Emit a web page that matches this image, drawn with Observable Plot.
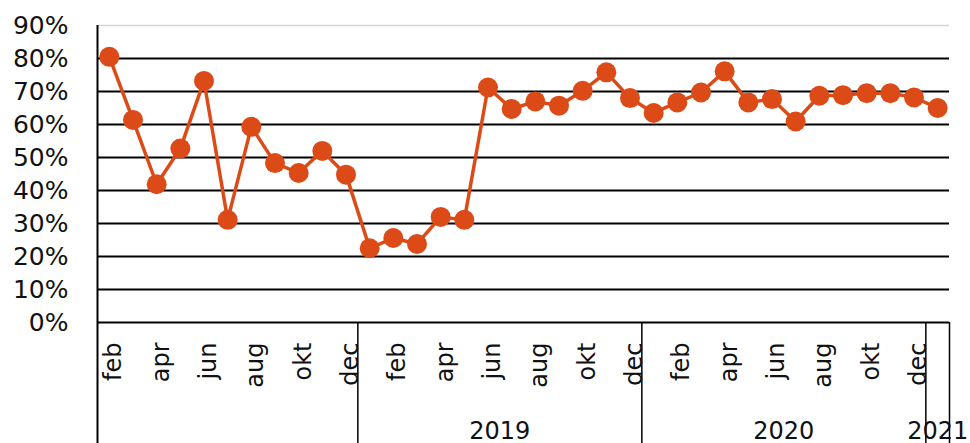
<!DOCTYPE html>
<html><head><meta charset="utf-8">
<script src="https://cdn.jsdelivr.net/npm/d3@7"></script>
<script src="https://cdn.jsdelivr.net/npm/@observablehq/plot@0.6"></script>
<style>html,body{margin:0;padding:0;background:#fff} svg{display:block}</style>
</head><body><div id="chart"></div>
<script>
// Period (year, month) of each observation
const periodYears = [2018,2018,2018,2018,2018,2018,2018,2018,2018,2018,2018,
  2019,2019,2019,2019,2019,2019,2019,2019,2019,2019,2019,2019,
  2020,2020,2020,2020,2020,2020,2020,2020,2020,2020,2020,2020,
  2021];
const periodMonths = ["feb","mar","apr","maj","jun","jul","aug","sep","okt","nov","dec",
  "jan","feb","mar","apr","maj","jun","jul","aug","sep","okt","nov","dec",
  "jan","feb","mar","apr","maj","jun","jul","aug","sep","okt","nov","dec",
  "jan"];
const shares = [0.805,0.614,0.419,0.527,0.732,0.311,0.593,0.483,0.453,0.520,0.448,
  0.225,0.256,0.238,0.320,0.311,0.712,0.647,0.670,0.657,0.702,0.758,0.680,
  0.635,0.667,0.697,0.761,0.667,0.677,0.609,0.687,0.689,0.695,0.695,0.682,
  0.650];
const labeledMonths = ["feb","apr","jun","aug","okt","dec"];
const yearLabels = ["2019","2020","2021"];
const yTicks = [0,0.1,0.2,0.3,0.4,0.5,0.6,0.7,0.8,0.9];

const ORANGE = "#dc4b17";
const data = shares.map((v, i) => ({i, v, m: periodMonths[i], yr: periodYears[i]}));
const n = data.length;

// year groups
const groups = d3.groups(data, d => d.yr).map(([yr, rows]) => ({
  yr: String(yr),
  start: rows[0].i - 0.5,
  end: rows[rows.length - 1].i + 0.5,
  mid: (rows[0].i + rows[rows.length - 1].i) / 2
}));
const boundaries = groups.map(g => g.end);
const labeledGroups = groups.filter(g => yearLabels.includes(g.yr));

const FONT = "DejaVu Sans";
const chart = Plot.plot({
  width: 970,
  height: 443,
  marginLeft: 97,
  marginRight: 21,
  marginTop: 25,
  marginBottom: 121,
  style: {fontFamily: FONT, fontSize: "24px", color: "#111", background: "#fff"},
  x: {domain: [-0.5, n - 0.5], axis: null},
  y: {domain: [0, 0.9], axis: null},
  marks: [
    Plot.ruleY(yTicks.filter(t => t < 0.85), {stroke: "#000", strokeWidth: 2}),
    Plot.ruleY(yTicks.filter(t => t > 0.85), {stroke: "#d4d4d4", strokeWidth: 1.5}),
    Plot.ruleX(boundaries, {y1: 0, y2: 0, insetBottom: -121, stroke: "#000", strokeWidth: 1.5}),
    Plot.ruleX([-0.5], {insetBottom: -121, stroke: "#000", strokeWidth: 2}),
    Plot.axisY(yTicks, {label: null, tickSize: 0, tickPadding: 29, tickFormat: d3.format(".0%"), fontSize: 25, fill: "#111"}),
    Plot.line(data, {x: "i", y: "v", stroke: ORANGE, strokeWidth: 3.5}),
    Plot.dot(data, {x: "i", y: "v", r: 10, fill: ORANGE}),
    Plot.text(data.filter(d => labeledMonths.includes(d.m)), {
      x: "i", text: "m", frameAnchor: "bottom", rotate: -90, textAnchor: "end",
      lineAnchor: "bottom", dx: 12, dy: 20, fontSize: 24, fill: "#111"
    }),
    Plot.text(labeledGroups, {
      x: "mid", text: "yr", frameAnchor: "bottom", lineAnchor: "bottom",
      dy: 116, fontSize: 24, fill: "#111"
    })
  ]
});
document.getElementById("chart").appendChild(chart);
</script>
</body></html>
